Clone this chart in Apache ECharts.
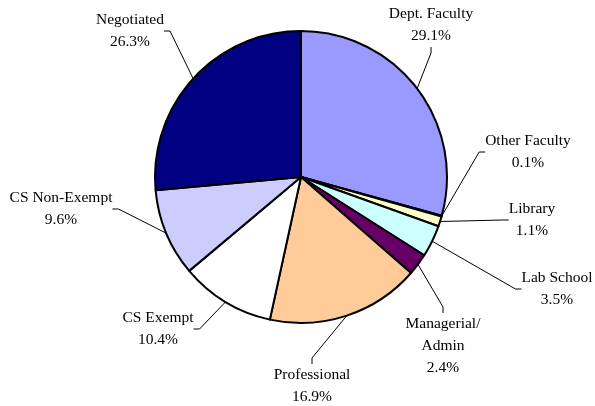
<!DOCTYPE html>
<html>
<head>
<meta charset="UTF-8">
<script src="https://cdn.jsdelivr.net/npm/echarts@6/dist/echarts.min.js"></script>
<style>
  body { margin: 0; background: #fff; }
  #chart { width: 595px; height: 406px; }
</style>
</head>
<body>
<div id="chart"></div>
<script>
// slice names and shares (%), clockwise from 12 o'clock
const names = ['Dept. Faculty', 'Other Faculty', 'Library', 'Lab School', 'Managerial/\nAdmin',
               'Professional', 'CS Exempt', 'CS Non-Exempt', 'Negotiated'];
const shares = [29.1, 0.1, 1.1, 3.5, 2.4, 16.9, 10.4, 9.6, 26.3];
const colors = ['#9999FF', '#FFFFFF', '#FFFFCC', '#CCFFFF', '#660066',
                '#FFCC99', '#FFFFFF', '#CCCCFF', '#000080'];

// where each label block is centred
const labelPos = [
  [431, 25], [528, 152], [532, 220], [557, 289], [443, 346],
  [312, 386], [158, 329], [61, 209], [130, 31]
];

const chart = echarts.init(document.getElementById('chart'));

chart.setOption({
  animation: false,
  series: [{
    type: 'pie',
    center: [301, 177],
    radius: 146,
    startAngle: 90,
    clockwise: true,
    data: names.map((n, i) => ({ name: n, value: shares[i], itemStyle: { color: colors[i] } })),
    itemStyle: { borderColor: '#000', borderWidth: 2 },
    label: {
      formatter: '{b}\n{c}%',
      fontFamily: 'Liberation Serif',
      fontSize: 15.5,
      lineHeight: 22,
      color: '#000',
      align: 'center'
    },
    labelLine: {
      show: true,
      length: 15,
      length2: 6,
      lineStyle: { color: '#000', width: 1 }
    },
    labelLayout: function (p) {
      const pos = labelPos[p.dataIndex];
      return { x: pos[0], y: pos[1], align: 'center', verticalAlign: 'middle' };
    },
    emphasis: { disabled: true }
  }]
});
</script>
</body>
</html>
